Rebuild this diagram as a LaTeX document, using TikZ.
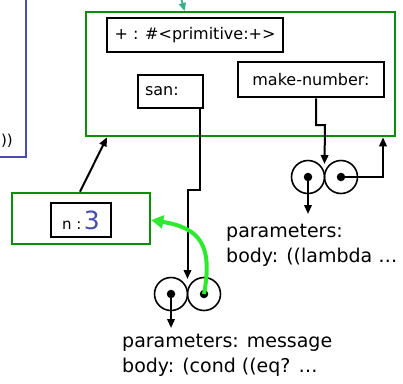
\documentclass[tikz,border=0pt]{standalone}
\usepackage{fontspec}
\setmainfont{DejaVu Sans}
\usetikzlibrary{arrows.meta}
\definecolor{framegreen}{HTML}{0A8F0A}
\definecolor{limegreen}{HTML}{2EEA2E}
\definecolor{envblue}{HTML}{4A4AB4}
\definecolor{tealarrow}{HTML}{3AAE84}

\begin{document}
\begin{tikzpicture}[x=1pt,y=-1pt,
  frame/.style={draw=framegreen, line width=2.6pt, inner sep=0pt},
  binding/.style={draw=black, line width=2.6pt, inner sep=0pt, font=\fontsize{16}{19}\selectfont},
  cell/.style={circle, draw, line width=1.6pt, minimum size=33pt, inner sep=0pt},
  dot/.style={circle, fill, inner sep=0pt, minimum size=8.5pt},
  ptr/.style={line width=2pt, -{Triangle[length=9pt,width=7.5pt]}},
  codetext/.style={font=\fontsize{19}{25}\selectfont, align=left, inner sep=0pt}]
\useasboundingbox (0,0) rectangle (403,383);
\clip (0,0) rectangle (403,383);

% enclosing environment, only its corner is visible
\draw[envblue, line width=2.2pt] (26,-5) -- (26,157) -- (-5,157);
\node[anchor=east, inner sep=0pt, font=\fontsize{15}{17}\selectfont] (tail) at (13,141) {))};

% pointer coming in from above
\coordinate (from) at (180,-6);
\coordinate (E-in) at (184.5,11);
\draw[tealarrow, line width=1.8pt, -{Triangle[length=8pt,width=7pt]}] (from) -- (E-in);

% global-like frame with its bindings
\node[frame, minimum width=309pt, minimum height=124pt] (E) at (240.5,74) {};
\node[binding, minimum width=176pt, minimum height=34pt] (plus) at (195,35) {+ : \#<primitive:+>};
\node[binding, minimum width=65pt, minimum height=33pt, text width=51pt, inner xsep=7pt, align=left] (san) at (170.5,91.5) {san:};
\node[binding, minimum width=146pt, minimum height=35pt] (mk) at (311,79.5) {make-number:};

% procedure object for make-number
\node[cell] (L1) at (308,177) {};
\node[cell] (R1) at (341,177) {};
\node[dot] (L1d) at (L1.center) {};
\node[dot] (R1d) at (R1.center) {};
\coordinate (J1) at (324.5,164);
\draw[ptr] (mk.south -| 316,0) -- (316,125) -- (325,125) -- (J1);
\draw[ptr] (R1d.center) -- (383,177) -- (E.south -| 383,0);
\coordinate (P1) at (308,214);
\draw[ptr] (L1d.center) -- (P1);
\node[codetext, anchor=west] (txt1) at (226,245) {parameters:\\body: ((lambda \dots};

% frame created by a call
\node[frame, minimum width=138pt, minimum height=51pt] (F) at (81,218.5) {};
\node[binding, minimum width=60pt, minimum height=34pt] (n) at (81,220)
  {{\fontsize{15}{17}\selectfont n :\,}{\color{envblue}\fontsize{25}{27}\selectfont 3}};
\draw[ptr] (F.north -| 80,0) -- (E.south -| 107,0);

% procedure object for san
\node[cell] (L2) at (171,294) {};
\node[cell] (R2) at (204,294) {};
\node[dot] (L2d) at (L2.center) {};
\node[dot] (R2d) at (R2.center) {};
\coordinate (J2) at (187.5,279);
\draw[ptr] (san.south -| 200,0) -- (200,190) -- (187.5,190) -- (J2);
\coordinate (P2) at (171,328);
\draw[ptr] (L2d.center) -- (P2);
\draw[limegreen, line width=4pt, -{Triangle[length=12pt,width=13pt]}]
  (R2d.center) .. controls (213,245) and (200,228) .. (F.east |- 0,220);
\node[codetext, anchor=north west] (txt2) at (122,334) {parameters: message\\body: (cond ((eq? \dots};
\end{tikzpicture}
\end{document}
